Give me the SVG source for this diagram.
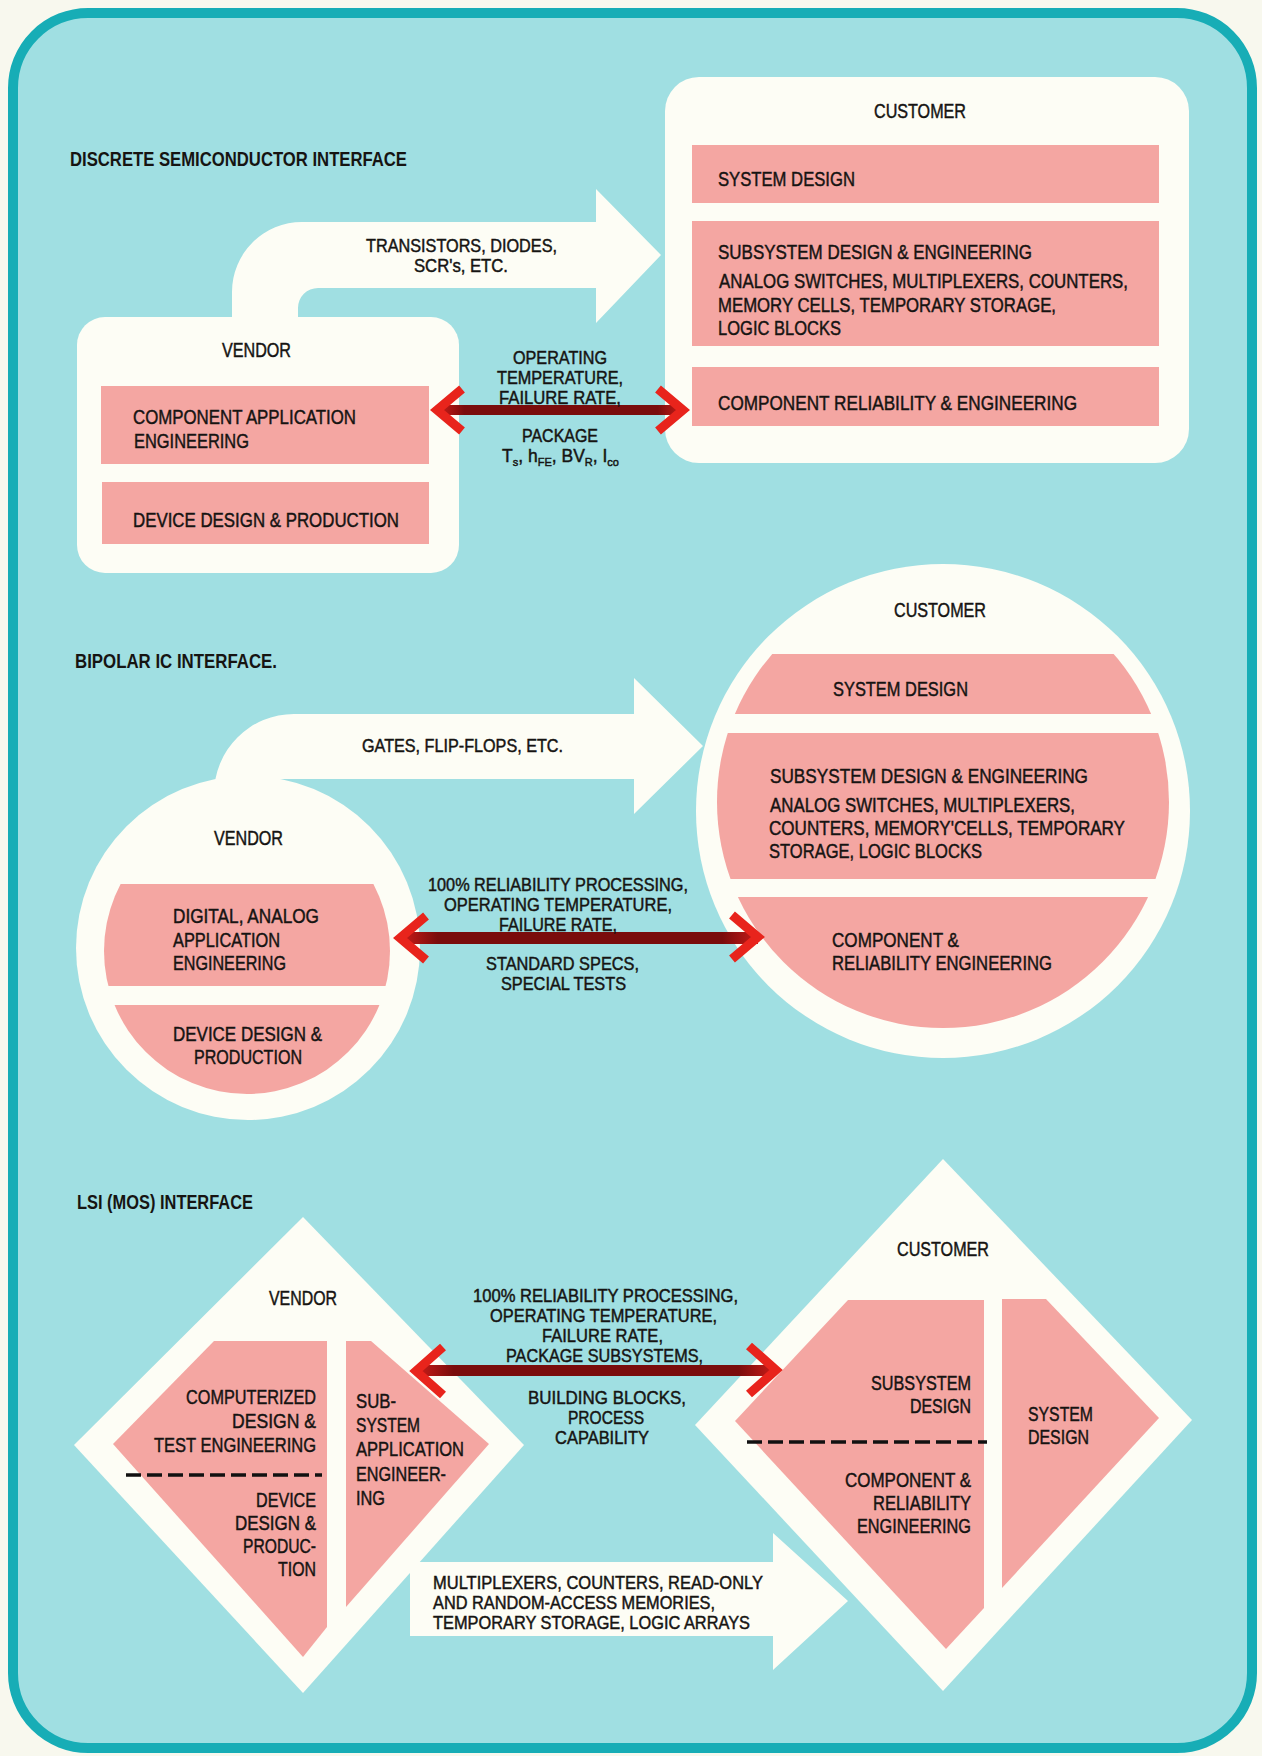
<svg xmlns="http://www.w3.org/2000/svg" width="1262" height="1756" viewBox="0 0 1262 1756">
<defs>
<style>
.wh{fill:#fdfdf5}
.pk{fill:#f4a6a2}
.t{font-family:"Liberation Sans",Arial,sans-serif;font-size:20px;fill:#161412;stroke:#161412;stroke-width:0.45}
.c{font-family:"Liberation Sans",Arial,sans-serif;font-size:17.5px;fill:#161412;stroke:#161412;stroke-width:0.45}
.ti{font-family:"Liberation Sans",Arial,sans-serif;font-size:20px;font-weight:bold;fill:#161412}
.dash{stroke:#111;stroke-width:3.5;stroke-dasharray:15 6;fill:none}
.chev{fill:none;stroke:#e8241c;stroke-width:9;stroke-linejoin:miter;stroke-miterlimit:6}
.sub{font-size:11px}
</style>
<linearGradient id="shaft" x1="0" y1="0" x2="1" y2="0">
<stop offset="0" stop-color="#c81c18"/>
<stop offset="0.1" stop-color="#7a0c0c"/>
<stop offset="0.9" stop-color="#7a0c0c"/>
<stop offset="1" stop-color="#c81c18"/>
</linearGradient>
<clipPath id="c2v"><circle cx="247" cy="951" r="143"/></clipPath>
<clipPath id="c2c"><circle cx="943" cy="802" r="226"/></clipPath>
</defs>

<g id="frame">
<rect x="0" y="0" width="1262" height="1756" fill="#f8f8ee"/>
<rect x="13" y="13" width="1239" height="1735" rx="75" fill="#a0dfe2" stroke="#17adb6" stroke-width="10"/>
</g>

<g id="titles">
<text class="ti" x="70" y="166" textLength="337" lengthAdjust="spacingAndGlyphs">DISCRETE SEMICONDUCTOR INTERFACE</text>
<text class="ti" x="75" y="668" textLength="202" lengthAdjust="spacingAndGlyphs">BIPOLAR IC INTERFACE.</text>
<text class="ti" x="77" y="1209" textLength="176" lengthAdjust="spacingAndGlyphs">LSI (MOS) INTERFACE</text>
</g>

<!-- Section 1 -->
<g id="s1-vendor">
<rect class="wh" x="77" y="317" width="382" height="256" rx="28"/>
<rect class="pk" x="101" y="386" width="328" height="78"/>
<rect class="pk" x="102" y="482" width="327" height="62"/>
<text class="t" x="222" y="357" textLength="69" lengthAdjust="spacingAndGlyphs">VENDOR</text>
<text class="t" x="133" y="424" textLength="223" lengthAdjust="spacingAndGlyphs">COMPONENT APPLICATION</text>
<text class="t" x="134" y="448" textLength="115" lengthAdjust="spacingAndGlyphs">ENGINEERING</text>
<text class="t" x="133" y="527" textLength="266" lengthAdjust="spacingAndGlyphs">DEVICE DESIGN &amp; PRODUCTION</text>
</g>

<g id="s1-customer">
<rect class="wh" x="665" y="77" width="524" height="386" rx="34"/>
<rect class="pk" x="692" y="145" width="467" height="58"/>
<rect class="pk" x="692" y="221" width="467" height="125"/>
<rect class="pk" x="692" y="367" width="467" height="59"/>
<text class="t" x="874" y="118" textLength="92" lengthAdjust="spacingAndGlyphs">CUSTOMER</text>
<text class="t" x="718" y="186" textLength="137" lengthAdjust="spacingAndGlyphs">SYSTEM DESIGN</text>
<text class="t" x="718" y="259" textLength="314" lengthAdjust="spacingAndGlyphs">SUBSYSTEM DESIGN &amp; ENGINEERING</text>
<text class="t" x="719" y="288" textLength="409" lengthAdjust="spacingAndGlyphs">ANALOG SWITCHES, MULTIPLEXERS, COUNTERS,</text>
<text class="t" x="718" y="312" textLength="338" lengthAdjust="spacingAndGlyphs">MEMORY CELLS, TEMPORARY STORAGE,</text>
<text class="t" x="718" y="335" textLength="123" lengthAdjust="spacingAndGlyphs">LOGIC BLOCKS</text>
<text class="t" x="718" y="410" textLength="359" lengthAdjust="spacingAndGlyphs">COMPONENT RELIABILITY &amp; ENGINEERING</text>
</g>

<!-- Section 2 -->
<g id="s2-vendor">
<circle class="wh" cx="248" cy="948" r="172"/>
<g clip-path="url(#c2v)">
<rect class="pk" x="90" y="884" width="320" height="102"/>
<rect class="pk" x="90" y="1005" width="320" height="100"/>
</g>
<text class="t" x="214" y="845" textLength="69" lengthAdjust="spacingAndGlyphs">VENDOR</text>
<text class="t" x="173" y="923" textLength="146" lengthAdjust="spacingAndGlyphs">DIGITAL, ANALOG</text>
<text class="t" x="173" y="947" textLength="107" lengthAdjust="spacingAndGlyphs">APPLICATION</text>
<text class="t" x="173" y="970" textLength="113" lengthAdjust="spacingAndGlyphs">ENGINEERING</text>
<text class="t" x="173" y="1041" textLength="149" lengthAdjust="spacingAndGlyphs">DEVICE DESIGN &amp;</text>
<text class="t" x="194" y="1064" textLength="108" lengthAdjust="spacingAndGlyphs">PRODUCTION</text>
</g>

<g id="s2-customer">
<circle class="wh" cx="943" cy="811" r="247"/>
<g clip-path="url(#c2c)">
<rect class="pk" x="700" y="654" width="490" height="60"/>
<rect class="pk" x="700" y="733" width="490" height="146"/>
<rect class="pk" x="700" y="897" width="490" height="140"/>
</g>
<text class="t" x="894" y="617" textLength="92" lengthAdjust="spacingAndGlyphs">CUSTOMER</text>
<text class="t" x="833" y="696" textLength="135" lengthAdjust="spacingAndGlyphs">SYSTEM DESIGN</text>
<text class="t" x="770" y="783" textLength="318" lengthAdjust="spacingAndGlyphs">SUBSYSTEM DESIGN &amp; ENGINEERING</text>
<text class="t" x="770" y="812" textLength="305" lengthAdjust="spacingAndGlyphs">ANALOG SWITCHES, MULTIPLEXERS,</text>
<text class="t" x="769" y="835" textLength="356" lengthAdjust="spacingAndGlyphs">COUNTERS, MEMORY'CELLS, TEMPORARY</text>
<text class="t" x="769" y="858" textLength="213" lengthAdjust="spacingAndGlyphs">STORAGE, LOGIC BLOCKS</text>
<text class="t" x="832" y="947" textLength="127" lengthAdjust="spacingAndGlyphs">COMPONENT &amp;</text>
<text class="t" x="832" y="970" textLength="220" lengthAdjust="spacingAndGlyphs">RELIABILITY ENGINEERING</text>
</g>

<!-- Section 3 -->
<g id="s3-vendor">
<polygon class="wh" points="303,1217 524,1445 303,1693 74,1445"/>
<polygon class="pk" points="214,1341 327,1341 327,1627 303,1657 113,1444"/>
<polygon class="pk" points="346,1341 371,1341 489,1444 346,1607"/>
<line class="dash" x1="126" y1="1475" x2="322" y2="1475"/>
<text class="t" x="269" y="1305" textLength="68" lengthAdjust="spacingAndGlyphs">VENDOR</text>
<text class="t" x="186" y="1404" textLength="130" lengthAdjust="spacingAndGlyphs">COMPUTERIZED</text>
<text class="t" x="232" y="1428" textLength="84" lengthAdjust="spacingAndGlyphs">DESIGN &amp;</text>
<text class="t" x="154" y="1452" textLength="162" lengthAdjust="spacingAndGlyphs">TEST ENGINEERING</text>
<text class="t" x="256" y="1507" textLength="60" lengthAdjust="spacingAndGlyphs">DEVICE</text>
<text class="t" x="235" y="1530" textLength="81" lengthAdjust="spacingAndGlyphs">DESIGN &amp;</text>
<text class="t" x="243" y="1553" textLength="73" lengthAdjust="spacingAndGlyphs">PRODUC-</text>
<text class="t" x="278" y="1576" textLength="38" lengthAdjust="spacingAndGlyphs">TION</text>
<text class="t" x="356" y="1408" textLength="40" lengthAdjust="spacingAndGlyphs">SUB-</text>
<text class="t" x="356" y="1432" textLength="64" lengthAdjust="spacingAndGlyphs">SYSTEM</text>
<text class="t" x="356" y="1456" textLength="108" lengthAdjust="spacingAndGlyphs">APPLICATION</text>
<text class="t" x="356" y="1481" textLength="90" lengthAdjust="spacingAndGlyphs">ENGINEER-</text>
<text class="t" x="356" y="1505" textLength="29" lengthAdjust="spacingAndGlyphs">ING</text>
</g>

<g id="s3-customer">
<polygon class="wh" points="943,1159 1192,1420 943,1691 695,1425"/>
<polygon class="pk" points="848,1300 984,1300 984,1608 946,1649 735,1421"/>
<polygon class="pk" points="1002,1299 1046,1299 1159,1418 1002,1588"/>
<line class="dash" x1="747" y1="1442" x2="987" y2="1442"/>
<text class="t" x="897" y="1256" textLength="92" lengthAdjust="spacingAndGlyphs">CUSTOMER</text>
<text class="t" x="871" y="1390" textLength="100" lengthAdjust="spacingAndGlyphs">SUBSYSTEM</text>
<text class="t" x="910" y="1413" textLength="61" lengthAdjust="spacingAndGlyphs">DESIGN</text>
<text class="t" x="845" y="1487" textLength="126" lengthAdjust="spacingAndGlyphs">COMPONENT &amp;</text>
<text class="t" x="873" y="1510" textLength="98" lengthAdjust="spacingAndGlyphs">RELIABILITY</text>
<text class="t" x="857" y="1533" textLength="114" lengthAdjust="spacingAndGlyphs">ENGINEERING</text>
<text class="t" x="1028" y="1421" textLength="65" lengthAdjust="spacingAndGlyphs">SYSTEM</text>
<text class="t" x="1028" y="1444" textLength="61" lengthAdjust="spacingAndGlyphs">DESIGN</text>
</g>

<g id="connectors">
<!-- product flow arrows -->
<path class="wh" d="M232 330 V292 A70 70 0 0 1 302 222 H596 V189 L661 255 L596 323 V288 H318 A20 20 0 0 0 298 308 V330 Z"/>
<path class="wh" d="M214 800 V794 A80 80 0 0 1 294 714 H634 V678 L703 746 L634 814 V779 H274 V800 Z"/>
<path class="wh" d="M410 1562 H773 V1533 L848 1601 L773 1670 V1636 H410 Z"/>
<!-- interface double arrows -->
<rect x="440" y="405" width="242" height="10" fill="url(#shaft)"/>
<polyline class="chev" points="462,389 437,410 462,431"/>
<polyline class="chev" points="658,389 683,410 658,431"/>
<rect x="402" y="932" width="356" height="12" fill="url(#shaft)"/>
<polyline class="chev" points="426,916 400,938 426,960"/>
<polyline class="chev" points="732,915 758,937 732,959"/>
<rect x="418" y="1365" width="356" height="11" fill="url(#shaft)"/>
<polyline class="chev" points="443,1347 416,1371 443,1395"/>
<polyline class="chev" points="749,1346 776,1370 749,1394"/>
</g>

<g id="connector-labels">
<text class="c" x="366" y="252" textLength="191" lengthAdjust="spacingAndGlyphs">TRANSISTORS, DIODES,</text>
<text class="c" x="414" y="272" textLength="94" lengthAdjust="spacingAndGlyphs">SCR's, ETC.</text>
<text class="c" x="513" y="364" textLength="94" lengthAdjust="spacingAndGlyphs">OPERATING</text>
<text class="c" x="497" y="384" textLength="126" lengthAdjust="spacingAndGlyphs">TEMPERATURE,</text>
<text class="c" x="499" y="404" textLength="122" lengthAdjust="spacingAndGlyphs">FAILURE RATE,</text>
<text class="c" x="522" y="442" textLength="76" lengthAdjust="spacingAndGlyphs">PACKAGE</text>
<text class="c" x="502" y="462" textLength="117" lengthAdjust="spacingAndGlyphs">T<tspan class="sub" dy="4">s</tspan><tspan dy="-4">, h</tspan><tspan class="sub" dy="4">FE</tspan><tspan dy="-4">, BV</tspan><tspan class="sub" dy="4">R</tspan><tspan dy="-4">, I</tspan><tspan class="sub" dy="4">co</tspan></text>

<text class="c" x="362" y="752" textLength="201" lengthAdjust="spacingAndGlyphs">GATES, FLIP-FLOPS, ETC.</text>
<text class="c" x="428" y="891" textLength="260" lengthAdjust="spacingAndGlyphs">100% RELIABILITY PROCESSING,</text>
<text class="c" x="444" y="911" textLength="228" lengthAdjust="spacingAndGlyphs">OPERATING TEMPERATURE,</text>
<text class="c" x="499" y="931" textLength="118" lengthAdjust="spacingAndGlyphs">FAILURE RATE,</text>
<text class="c" x="486" y="970" textLength="153" lengthAdjust="spacingAndGlyphs">STANDARD SPECS,</text>
<text class="c" x="501" y="990" textLength="125" lengthAdjust="spacingAndGlyphs">SPECIAL TESTS</text>

<text class="c" x="473" y="1302" textLength="265" lengthAdjust="spacingAndGlyphs">100% RELIABILITY PROCESSING,</text>
<text class="c" x="490" y="1322" textLength="227" lengthAdjust="spacingAndGlyphs">OPERATING TEMPERATURE,</text>
<text class="c" x="542" y="1342" textLength="121" lengthAdjust="spacingAndGlyphs">FAILURE RATE,</text>
<text class="c" x="506" y="1362" textLength="197" lengthAdjust="spacingAndGlyphs">PACKAGE SUBSYSTEMS,</text>
<text class="c" x="528" y="1404" textLength="158" lengthAdjust="spacingAndGlyphs">BUILDING BLOCKS,</text>
<text class="c" x="568" y="1424" textLength="76" lengthAdjust="spacingAndGlyphs">PROCESS</text>
<text class="c" x="555" y="1444" textLength="94" lengthAdjust="spacingAndGlyphs">CAPABILITY</text>
<text class="c" x="433" y="1589" textLength="330" lengthAdjust="spacingAndGlyphs">MULTIPLEXERS, COUNTERS, READ-ONLY</text>
<text class="c" x="433" y="1609" textLength="282" lengthAdjust="spacingAndGlyphs">AND RANDOM-ACCESS MEMORIES,</text>
<text class="c" x="433" y="1629" textLength="317" lengthAdjust="spacingAndGlyphs">TEMPORARY STORAGE, LOGIC ARRAYS</text>
</g>
</svg>
